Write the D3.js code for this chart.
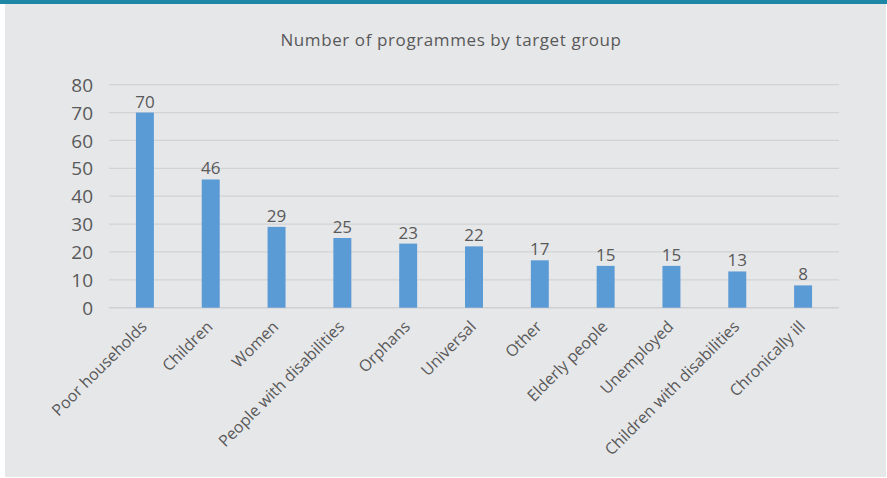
<!DOCTYPE html>
<html><head><meta charset="utf-8">
<script src="https://cdnjs.cloudflare.com/ajax/libs/d3/7.8.5/d3.min.js"></script>
<style>html,body{margin:0;padding:0;background:#fff;}svg{display:block;}</style>
</head><body>
<script>
const categories = ["Poor households","Children","Women","People with disabilities","Orphans","Universal","Other","Elderly people","Unemployed","Children with disabilities","Chronically ill"];
const values = [70,46,29,25,23,22,17,15,15,13,8];
const yTicks = [0,10,20,30,40,50,60,70,80];
const title = "Number of programmes by target group";

const W = 887, H = 478;
const svg = d3.select("body").append("svg").attr("width", W).attr("height", H);
svg.append("rect").attr("x",5).attr("y",0).attr("width",881).attr("height",477).attr("fill","#e6e7e9");
svg.append("rect").attr("x",0).attr("y",0).attr("width",W).attr("height",4).attr("fill","#1f87a6");

const font = "'Open Sans', sans-serif";
const grey = "#595959";

const x = d3.scaleBand().domain(categories).range([112, 836]).paddingInner(0.727).paddingOuter(0.3635);
const y = d3.scaleLinear().domain([0, 80]).range([307.7, 84.7]);

svg.append("text").attr("x", 451).attr("y", 46).attr("text-anchor","middle")
  .attr("font-family", font).attr("font-size", 17).attr("letter-spacing", "0.6px")
  .attr("fill", grey).text(title);

// gridlines
svg.append("g").selectAll("line").data(yTicks).join("line")
  .attr("x1",109).attr("x2",839).attr("y1",d=>y(d)).attr("y2",d=>y(d))
  .attr("stroke", d=> d===0 ? "#cfd0d2" : "#d2d3d5").attr("stroke-width", d=>d===0?1.5:1.2);

// y axis
const yAxis = d3.axisLeft(y).tickValues(yTicks).tickSize(0).tickPadding(0);
const gy = svg.append("g").attr("transform","translate(93,0)").call(yAxis);
gy.select(".domain").remove();
gy.selectAll("text").attr("font-family", font).attr("font-size", 19).attr("fill", grey).attr("dy","0.35em");

// bars
svg.append("g").selectAll("rect").data(values).join("rect")
  .attr("x",(d,i)=>x(categories[i])).attr("width", x.bandwidth())
  .attr("y", d=>y(d)).attr("height", d=>y(0)-y(d)).attr("fill","#5b9bd5");

// value labels
svg.append("g").selectAll("text").data(values).join("text")
  .attr("x",(d,i)=>x(categories[i])+x.bandwidth()/2).attr("y", d=>y(d)-5)
  .attr("text-anchor","middle").attr("font-family", font).attr("font-size", 17).attr("fill", grey).text(d=>d);

// x axis labels
const xAxis = d3.axisBottom(x).tickSize(0).tickPadding(0);
const gx = svg.append("g").attr("transform","translate(0,307.7)").call(xAxis);
gx.select(".domain").remove();
gx.selectAll("text").attr("font-family", font).attr("font-size", 16).attr("fill", grey)
  .attr("text-anchor","end").attr("dy",0).attr("y",0)
  .attr("transform","translate(3,20) rotate(-45)");
</script>
</body></html>
